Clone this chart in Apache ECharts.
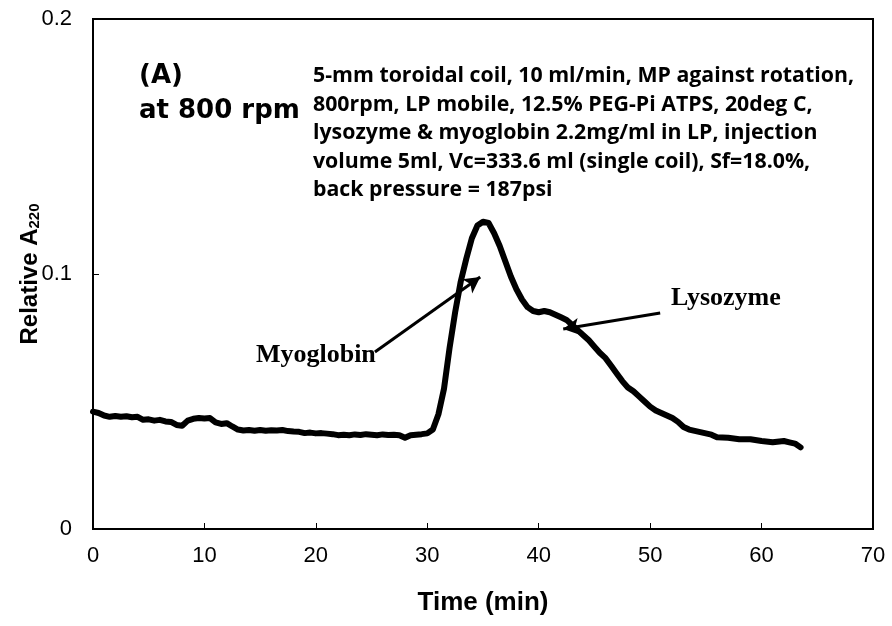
<!DOCTYPE html>
<html>
<head>
<meta charset="utf-8">
<script src="https://cdn.jsdelivr.net/npm/echarts@6/dist/echarts.min.js"></script>
<style>
  html, body { margin: 0; padding: 0; background: #fff; }
  #chart { width: 892px; height: 626px; }
</style>
</head>
<body>
<div id="chart"></div>
<script>
// elution time (min) and relative A220
const times = [
  0, 0.5, 1, 1.5, 2, 2.5, 3, 3.5, 4, 4.5, 5, 5.5, 6, 6.5, 7, 7.5, 8, 8.5, 9, 9.5,
  10, 10.5, 11, 11.5, 12, 12.5, 13, 13.5, 14, 14.5, 15, 15.5, 16, 16.5, 17, 17.5,
  18, 18.5, 19, 19.5, 20, 20.5, 21, 21.5, 22, 22.5, 23, 23.5, 24, 24.5, 25, 25.5,
  26, 26.5, 27, 27.5, 28, 28.5, 29, 29.5, 30, 30.5, 31, 31.5, 32, 32.5, 33, 33.5,
  34, 34.5, 35, 35.5, 36, 36.5, 37, 37.5, 38, 38.5, 39, 39.5, 40, 40.5, 41, 41.5,
  42, 42.5, 43, 43.5, 44, 44.5, 45, 45.5, 46, 46.5, 47, 47.5, 48, 48.5, 49, 49.5,
  50, 50.5, 51, 51.5, 52, 52.5, 53, 53.5, 54, 55, 55.5, 56, 57, 58, 59, 60, 61,
  62, 62.5, 63, 63.5
]
const a220 = [
  0.046, 0.0455, 0.0445, 0.044, 0.0443, 0.044, 0.0442, 0.0438, 0.044, 0.0428,
  0.043, 0.0425, 0.0428, 0.0422, 0.042, 0.0408, 0.0405, 0.0425, 0.0432, 0.0435,
  0.0433, 0.0435, 0.0418, 0.0412, 0.0415, 0.0402, 0.039, 0.0386, 0.0388, 0.0385,
  0.0388, 0.0385, 0.0387, 0.0386, 0.0388, 0.0384, 0.0382, 0.0381, 0.0376, 0.0378,
  0.0375, 0.0376, 0.0374, 0.0372, 0.0368, 0.037, 0.0368, 0.0371, 0.0369, 0.0372,
  0.037, 0.0368, 0.0371, 0.0369, 0.037, 0.0368, 0.0358, 0.0368, 0.037, 0.0372,
  0.0375, 0.039, 0.045, 0.055, 0.071, 0.085, 0.097, 0.106,
  0.114, 0.119, 0.1205, 0.12, 0.116, 0.111, 0.105, 0.099, 0.094, 0.09,
  0.087, 0.0855, 0.085, 0.0855, 0.085, 0.084, 0.083, 0.082, 0.08, 0.078,
  0.076, 0.074, 0.0715, 0.069, 0.067, 0.064, 0.061, 0.058, 0.0555, 0.054,
  0.052, 0.05, 0.048, 0.0465, 0.0455, 0.0445, 0.0435, 0.042, 0.04, 0.039,
  0.0385, 0.0375, 0.037, 0.036, 0.0358, 0.0352, 0.0352, 0.0345, 0.034,
  0.0345, 0.034, 0.0335, 0.032
]

const xTicks = [0, 10, 20, 30, 40, 50, 60, 70]
const yTicks = [0, 0.1, 0.2]

// peak labels and their arrows (data coords)
const annoNames = ['Myoglobin', 'Lysozyme']
const annoText = [[20.0, 0.0682], [56.8, 0.0906]]
const arrowFrom = [[25.3, 0.0694], [50.9, 0.0847]]
const arrowTo = [[34.75, 0.0988], [42.2, 0.0784]]

const panelLines = ['(A)', 'at 800 rpm']
const conditionLines = [
  '5-mm toroidal coil, 10 ml/min, MP against rotation,',
  '800rpm, LP mobile, 12.5% PEG-Pi ATPS, 20deg C,',
  'lysozyme & myoglobin 2.2mg/ml in LP, injection',
  'volume 5ml, Vc=333.6 ml (single coil), Sf=18.0%,',
  'back pressure = 187psi'
]

const sans = '"Liberation Sans", Arial, sans-serif'
const serif = '"Liberation Serif", "Times New Roman", serif'

const chart = echarts.init(document.getElementById('chart'))

chart.setOption({
  backgroundColor: '#fff',
  animation: false,
  title: [
    {
      text: panelLines.join('\n'),
      left: 139,
      top: 59,
      padding: 0,
      textStyle: {
        fontFamily: '"DejaVu Sans", sans-serif',
        fontWeight: 900,
        fontSize: 26,
        lineHeight: 35,
        color: '#000'
      }
    },
    {
      text: conditionLines.join('\n'),
      left: 313,
      top: 62,
      padding: 0,
      textStyle: {
        fontFamily: '"Open Sans", Lato, sans-serif',
        fontWeight: 'bold',
        fontSize: 21.3,
        lineHeight: 28.5,
        color: '#000'
      }
    }
  ],
  grid: {
    left: 93,
    right: 19,
    top: 19,
    bottom: 97,
    outerBoundsMode: 'none',
    show: true,
    borderColor: '#000',
    borderWidth: 2
  },
  xAxis: {
    type: 'value',
    min: xTicks[0],
    max: xTicks[xTicks.length - 1],
    interval: 10,
    name: 'Time (min)',
    nameLocation: 'middle',
    nameGap: 61,
    nameMoveOverlap: false,
    nameTextStyle: { fontFamily: sans, fontWeight: 'bold', fontSize: 26, color: '#000' },
    axisLine: { lineStyle: { color: '#000', width: 2 } },
    axisTick: { inside: true, length: 6, lineStyle: { color: '#000', width: 1 } },
    axisLabel: { fontFamily: sans, fontSize: 22, color: '#000', margin: 16 },
    splitLine: { show: false }
  },
  yAxis: {
    type: 'value',
    min: yTicks[0],
    max: yTicks[yTicks.length - 1],
    interval: 0.1,
    name: 'Relative A{sub|220}',
    nameLocation: 'middle',
    nameGap: 51,
    nameMoveOverlap: false,
    nameTextStyle: {
      fontFamily: sans, fontWeight: 'bold', fontSize: 24, color: '#000', lineHeight: 24,
      rich: {
        sub: { fontFamily: sans, fontWeight: 'bold', fontSize: 15, color: '#000',
               verticalAlign: 'bottom', lineHeight: 16, padding: [8, 0, 0, 0] }
      }
    },
    axisLine: { lineStyle: { color: '#000', width: 2 } },
    axisTick: { inside: true, length: 6, lineStyle: { color: '#000', width: 1 } },
    axisLabel: { fontFamily: sans, fontSize: 22, color: '#000', margin: 21 },
    splitLine: { show: false }
  },
  series: [{
    type: 'line',
    data: times.map((t, i) => [t, a220[i]]),
    showSymbol: false,
    symbol: 'none',
    lineStyle: { color: '#000', width: 6, join: 'round', cap: 'round' },
    markLine: {
      silent: true,
      symbol: ['none', 'arrow'],
      symbolSize: [13, 16],
      label: { show: false },
      lineStyle: { color: '#000', width: 3, type: 'solid' },
      data: arrowFrom.map((p, i) => [{ coord: p }, { coord: arrowTo[i] }])
    },
    markPoint: {
      silent: true,
      symbol: 'circle',
      symbolSize: 1,
      itemStyle: { color: 'rgba(0,0,0,0)' },
      label: {
        show: true,
        position: 'inside',
        formatter: '{b}',
        fontFamily: serif,
        fontWeight: 'bold',
        fontSize: 26,
        color: '#000'
      },
      data: annoNames.map((n, i) => ({ name: n, coord: annoText[i] }))
    }
  }]
})
</script>
</body>
</html>
